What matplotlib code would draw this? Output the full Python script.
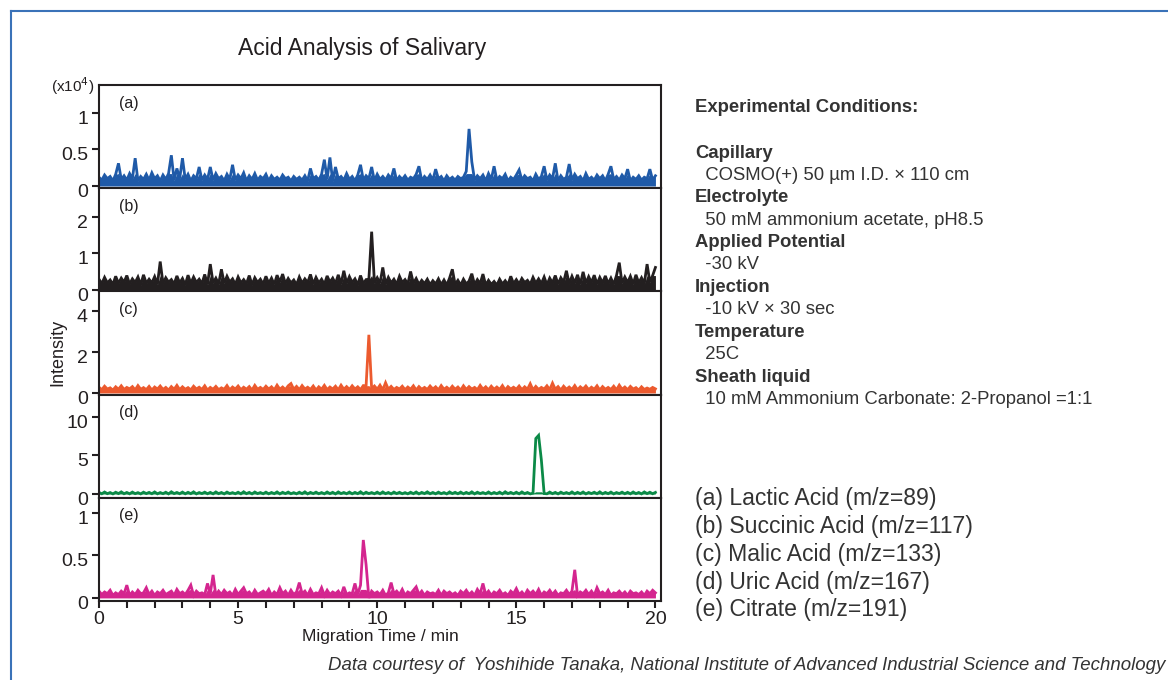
import numpy as np
import matplotlib
matplotlib.use("Agg")
import matplotlib.pyplot as plt
from matplotlib.lines import Line2D
from matplotlib.ticker import MultipleLocator
from matplotlib.transforms import ScaledTranslation

plt.rcParams['font.family'] = ['Liberation Sans', 'DejaVu Sans']

# ---------------- data (x10^4 intensity, sampled every 0.1 min) ----------------
t_step = 0.1

lactic = [
    0.12, 0.08, 0.15, 0.10, 0.13, 0.07, 0.16, 0.31, 0.09, 0.14,
    0.08, 0.17, 0.10, 0.38, 0.07, 0.13, 0.09, 0.16, 0.08, 0.18,
    0.10, 0.14, 0.07, 0.15, 0.09, 0.17, 0.42, 0.08, 0.24, 0.10,
    0.38, 0.09, 0.16, 0.07, 0.14, 0.10, 0.26, 0.08, 0.15, 0.09,
    0.26, 0.08, 0.17, 0.10, 0.13, 0.07, 0.16, 0.09, 0.29, 0.08,
    0.15, 0.10, 0.18, 0.07, 0.14, 0.09, 0.17, 0.08, 0.13, 0.10,
    0.16, 0.07, 0.14, 0.09, 0.12, 0.08, 0.15, 0.10, 0.12, 0.07,
    0.13, 0.09, 0.12, 0.08, 0.14, 0.07, 0.24, 0.10, 0.13, 0.08,
    0.16, 0.36, 0.09, 0.39, 0.07, 0.26, 0.10, 0.13, 0.08, 0.17,
    0.09, 0.13, 0.07, 0.15, 0.29, 0.08, 0.14, 0.10, 0.26, 0.07,
    0.16, 0.09, 0.13, 0.08, 0.15, 0.10, 0.24, 0.07, 0.13, 0.09,
    0.14, 0.08, 0.12, 0.10, 0.16, 0.27, 0.07, 0.13, 0.09, 0.15,
    0.08, 0.23, 0.10, 0.13, 0.07, 0.14, 0.09, 0.12, 0.08, 0.13,
    0.10, 0.12, 0.20, 0.78, 0.33, 0.08, 0.14, 0.10, 0.15, 0.07,
    0.17, 0.09, 0.27, 0.08, 0.13, 0.10, 0.16, 0.07, 0.12, 0.09,
    0.15, 0.22, 0.08, 0.14, 0.10, 0.12, 0.07, 0.16, 0.09, 0.13,
    0.27, 0.08, 0.15, 0.10, 0.31, 0.07, 0.14, 0.09, 0.12, 0.30,
    0.08, 0.16, 0.10, 0.13, 0.07, 0.17, 0.09, 0.12, 0.08, 0.15,
    0.10, 0.14, 0.07, 0.16, 0.27, 0.09, 0.13, 0.08, 0.15, 0.10,
    0.23, 0.07, 0.12, 0.09, 0.14, 0.08, 0.12, 0.10, 0.23, 0.08,
    0.14,
]

succinic = [
    0.30, 0.18, 0.35, 0.20, 0.28, 0.16, 0.38, 0.19, 0.33, 0.22,
    0.40, 0.17, 0.31, 0.21, 0.36, 0.15, 0.42, 0.19, 0.30, 0.20,
    0.37, 0.16, 0.78, 0.18, 0.34, 0.22, 0.29, 0.17, 0.39, 0.20,
    0.32, 0.15, 0.41, 0.19, 0.36, 0.21, 0.30, 0.18, 0.43, 0.16,
    0.71, 0.20, 0.33, 0.17, 0.57, 0.19, 0.38, 0.22, 0.31, 0.16,
    0.36, 0.20, 0.29, 0.18, 0.40, 0.15, 0.34, 0.21, 0.30, 0.17,
    0.38, 0.19, 0.33, 0.16, 0.41, 0.22, 0.44, 0.18, 0.32, 0.20,
    0.28, 0.15, 0.36, 0.19, 0.31, 0.21, 0.43, 0.17, 0.35, 0.20,
    0.30, 0.16, 0.39, 0.22, 0.33, 0.18, 0.42, 0.17, 0.53, 0.19,
    0.37, 0.21, 0.31, 0.15, 0.40, 0.18, 0.29, 0.30, 1.59, 0.20,
    0.34, 0.19, 0.62, 0.17, 0.35, 0.20, 0.30, 0.16, 0.38, 0.21,
    0.29, 0.17, 0.51, 0.19, 0.32, 0.16, 0.27, 0.18, 0.30, 0.15,
    0.26, 0.17, 0.31, 0.15, 0.28, 0.14, 0.33, 0.57, 0.16, 0.27,
    0.14, 0.30, 0.17, 0.25, 0.45, 0.15, 0.29, 0.18, 0.44, 0.14,
    0.27, 0.16, 0.24, 0.14, 0.30, 0.17, 0.26, 0.15, 0.38, 0.18,
    0.29, 0.17, 0.32, 0.21, 0.27, 0.16, 0.35, 0.19, 0.31, 0.18,
    0.36, 0.15, 0.33, 0.20, 0.40, 0.17, 0.34, 0.22, 0.53, 0.18,
    0.38, 0.20, 0.42, 0.16, 0.50, 0.19, 0.37, 0.21, 0.41, 0.17,
    0.35, 0.20, 0.39, 0.18, 0.33, 0.16, 0.40, 0.75, 0.19, 0.36,
    0.21, 0.38, 0.17, 0.42, 0.20, 0.34, 0.18, 0.71, 0.22, 0.40,
    0.62,
]

malic = [
    0.28, 0.16, 0.33, 0.19, 0.25, 0.14, 0.30, 0.18, 0.35, 0.17,
    0.27, 0.20, 0.31, 0.15, 0.36, 0.18, 0.26, 0.16, 0.32, 0.14,
    0.29, 0.19, 0.34, 0.17, 0.27, 0.14, 0.31, 0.18, 0.37, 0.16,
    0.30, 0.18, 0.26, 0.15, 0.33, 0.19, 0.28, 0.17, 0.35, 0.14,
    0.27, 0.18, 0.32, 0.16, 0.25, 0.18, 0.36, 0.15, 0.29, 0.19,
    0.34, 0.16, 0.28, 0.18, 0.31, 0.14, 0.37, 0.18, 0.27, 0.17,
    0.33, 0.19, 0.30, 0.15, 0.38, 0.18, 0.29, 0.16, 0.35, 0.46,
    0.18, 0.32, 0.16, 0.36, 0.19, 0.28, 0.17, 0.34, 0.14, 0.30,
    0.18, 0.37, 0.16, 0.29, 0.19, 0.33, 0.15, 0.38, 0.18, 0.31,
    0.17, 0.35, 0.19, 0.30, 0.16, 0.36, 0.35, 2.84, 0.20, 0.34,
    0.18, 0.38, 0.15, 0.50, 0.18, 0.32, 0.17, 0.27, 0.19, 0.33,
    0.16, 0.29, 0.18, 0.35, 0.14, 0.31, 0.18, 0.27, 0.17, 0.34,
    0.19, 0.30, 0.15, 0.36, 0.18, 0.28, 0.16, 0.33, 0.18, 0.29,
    0.14, 0.35, 0.17, 0.31, 0.19, 0.27, 0.16, 0.37, 0.18, 0.30,
    0.15, 0.33, 0.18, 0.29, 0.17, 0.36, 0.14, 0.31, 0.19, 0.28,
    0.18, 0.34, 0.16, 0.30, 0.18, 0.45, 0.15, 0.32, 0.17, 0.27,
    0.19, 0.35, 0.16, 0.48, 0.18, 0.31, 0.14, 0.33, 0.18, 0.29,
    0.17, 0.36, 0.15, 0.30, 0.19, 0.34, 0.16, 0.28, 0.18, 0.35,
    0.14, 0.31, 0.18, 0.27, 0.17, 0.33, 0.15, 0.38, 0.18, 0.29,
    0.16, 0.32, 0.19, 0.26, 0.14, 0.30, 0.17, 0.24, 0.18, 0.27,
    0.20,
]

uric = [
    0.20, 0.02, 0.25, 0.04, 0.18, 0.01, 0.22, 0.05, 0.27, 0.03,
    0.19, 0.02, 0.24, 0.04, 0.17, 0.01, 0.23, 0.05, 0.20, 0.03,
    0.26, 0.02, 0.18, 0.04, 0.22, 0.01, 0.28, 0.05, 0.19, 0.03,
    0.24, 0.02, 0.21, 0.04, 0.27, 0.01, 0.18, 0.05, 0.23, 0.03,
    0.20, 0.02, 0.26, 0.04, 0.19, 0.01, 0.24, 0.05, 0.17, 0.03,
    0.22, 0.02, 0.28, 0.04, 0.20, 0.01, 0.25, 0.05, 0.18, 0.03,
    0.23, 0.02, 0.19, 0.04, 0.26, 0.01, 0.21, 0.05, 0.24, 0.03,
    0.17, 0.02, 0.22, 0.04, 0.27, 0.01, 0.20, 0.05, 0.23, 0.03,
    0.18, 0.02, 0.25, 0.04, 0.21, 0.01, 0.26, 0.05, 0.19, 0.03,
    0.24, 0.02, 0.20, 0.04, 0.28, 0.01, 0.22, 0.05, 0.18, 0.03,
    0.23, 0.02, 0.26, 0.04, 0.19, 0.01, 0.24, 0.05, 0.21, 0.03,
    0.17, 0.02, 0.22, 0.04, 0.25, 0.01, 0.20, 0.05, 0.27, 0.03,
    0.19, 0.02, 0.23, 0.04, 0.18, 0.01, 0.26, 0.05, 0.21, 0.03,
    0.24, 0.02, 0.20, 0.04, 0.27, 0.01, 0.22, 0.05, 0.18, 0.03,
    0.25, 0.02, 0.19, 0.04, 0.23, 0.01, 0.28, 0.05, 0.20, 0.03,
    0.22, 0.02, 0.26, 0.04, 0.19, 0.01, 0.10, 7.20, 7.60, 4.40,
    0.05, 0.02, 0.24, 0.04, 0.20, 0.01, 0.23, 0.05, 0.18, 0.03,
    0.26, 0.02, 0.21, 0.04, 0.25, 0.01, 0.19, 0.05, 0.22, 0.03,
    0.27, 0.02, 0.20, 0.04, 0.24, 0.01, 0.18, 0.05, 0.23, 0.03,
    0.21, 0.02, 0.25, 0.04, 0.19, 0.01, 0.26, 0.05, 0.22, 0.03,
    0.20,
]

citrate = [
    0.08, 0.04, 0.07, 0.05, 0.09, 0.03, 0.06, 0.04, 0.08, 0.05,
    0.15, 0.03, 0.07, 0.04, 0.09, 0.05, 0.06, 0.12, 0.04, 0.08,
    0.03, 0.07, 0.05, 0.09, 0.04, 0.06, 0.08, 0.03, 0.10, 0.05,
    0.07, 0.04, 0.09, 0.15, 0.03, 0.08, 0.05, 0.06, 0.04, 0.17,
    0.05, 0.27, 0.03, 0.08, 0.04, 0.09, 0.05, 0.07, 0.03, 0.10,
    0.04, 0.08, 0.12, 0.05, 0.07, 0.03, 0.09, 0.04, 0.06, 0.08,
    0.05, 0.10, 0.03, 0.07, 0.04, 0.12, 0.05, 0.08, 0.03, 0.09,
    0.04, 0.07, 0.18, 0.05, 0.08, 0.03, 0.10, 0.04, 0.06, 0.05,
    0.12, 0.03, 0.09, 0.04, 0.07, 0.05, 0.08, 0.03, 0.13, 0.04,
    0.06, 0.05, 0.17, 0.04, 0.15, 0.68, 0.39, 0.00, 0.08, 0.05,
    0.07, 0.04, 0.09, 0.03, 0.06, 0.18, 0.05, 0.08, 0.04, 0.10,
    0.03, 0.07, 0.05, 0.09, 0.13, 0.04, 0.08, 0.03, 0.07, 0.05,
    0.06, 0.04, 0.09, 0.03, 0.08, 0.05, 0.07, 0.04, 0.06, 0.03,
    0.08, 0.05, 0.09, 0.04, 0.07, 0.03, 0.10, 0.05, 0.17, 0.04,
    0.08, 0.03, 0.07, 0.05, 0.09, 0.04, 0.06, 0.03, 0.08, 0.05,
    0.11, 0.04, 0.07, 0.03, 0.09, 0.05, 0.08, 0.04, 0.10, 0.03,
    0.07, 0.05, 0.09, 0.04, 0.08, 0.03, 0.06, 0.05, 0.09, 0.04,
    0.08, 0.33, 0.03, 0.07, 0.05, 0.09, 0.04, 0.08, 0.03, 0.12,
    0.05, 0.07, 0.04, 0.09, 0.03, 0.06, 0.05, 0.08, 0.04, 0.07,
    0.03, 0.08, 0.05, 0.06, 0.04, 0.07, 0.03, 0.08, 0.05, 0.09,
    0.06,
]

series = [lactic, succinic, malic, uric, citrate]
# top of the solid noise band (peaks above it are drawn as lines only)
band_tops = [0.17, 0.40, 0.36, 0.28, 0.10]
panel_labels = ['(a)', '(b)', '(c)', '(d)', '(e)']
colors = ['#1f5aa8', '#231f20', '#ec5a2e', '#0b8a47', '#d4258f']
ylims = [(-0.03, 1.38), (-0.03, 2.77), (-0.08, 4.96), (-0.5, 12.9), (-0.036, 1.175)]
yticks = [[0, 0.5, 1], [0, 1, 2], [0, 2, 4], [0, 5, 10], [0, 0.5, 1]]
ytick_labels = [['0', '0.5', '1'], ['0', '1', '2'], ['0', '2', '4'],
                ['0', '5', '10'], ['0', '0.5', '1']]
xticks = [0, 5, 10, 15, 20]

compounds = ['(a) Lactic Acid (m/z=89)', '(b) Succinic Acid (m/z=117)',
             '(c) Malic Acid (m/z=133)', '(d) Uric Acid (m/z=167)',
             '(e) Citrate (m/z=191)']

conditions = [
    ('Capillary', True), ('  COSMO(+) 50 µm I.D. × 110 cm', False),
    ('Electrolyte', True), ('  50 mM ammonium acetate, pH8.5', False),
    ('Applied Potential', True), ('  -30 kV', False),
    ('Injection', True), ('  -10 kV × 30 sec', False),
    ('Temperature', True), ('  25C', False),
    ('Sheath liquid', True), ('  10 mM Ammonium Carbonate: 2-Propanol =1:1', False),
]

# ---------------- figure ----------------
W, H = 1168, 680
fig = plt.figure(figsize=(W / 100, H / 100), dpi=100)

# blue outer frame
fig.add_artist(Line2D([10.5 / W, 1.0], [1 - 10.5 / H, 1 - 10.5 / H],
                      transform=fig.transFigure, color='#3a72b8', lw=1.5))
fig.add_artist(Line2D([10.5 / W, 10.5 / W], [0, 1 - 10.5 / H],
                      transform=fig.transFigure, color='#3a72b8', lw=1.5))

gs = fig.add_gridspec(5, 1, left=99 / W, right=661 / W,
                      top=1 - 85 / H, bottom=1 - 601 / H, hspace=0)

txtc = '#231f20'
label_shift = ScaledTranslation(0, -0.045, fig.dpi_scale_trans)
axes = []
for i, vals in enumerate(series):
    ax = fig.add_subplot(gs[i])
    v = np.asarray(vals)
    t = np.arange(len(v)) * t_step
    ax.fill_between(t, 0, np.minimum(v, band_tops[i]), color=colors[i], lw=0)
    ax.plot(t, v, color=colors[i], lw=2.0, solid_joinstyle='miter')
    ax.set_xlim(0, 20.2)
    ax.set_ylim(*ylims[i])
    ax.set_yticks(yticks[i])
    ax.set_yticklabels(ytick_labels[i])
    ax.tick_params(axis='y', direction='out', length=5, width=1.5,
                   labelsize=14, colors=txtc, pad=3)
    for lab in ax.get_yticklabels():
        lab.set_transform(lab.get_transform() + label_shift)
    for s in ax.spines.values():
        s.set_linewidth(1.5)
        s.set_color(txtc)
    ax.text(0.035, 1 - 18 / 103, panel_labels[i], transform=ax.transAxes,
            fontsize=11.5, color=txtc, va='center', ha='left')
    if i < 4:
        ax.set_xticks([])
    else:
        ax.set_xticks(xticks)
        ax.xaxis.set_minor_locator(MultipleLocator(1))
        ax.tick_params(axis='x', which='major', direction='out', length=5,
                       width=1.5, labelsize=14, colors=txtc, pad=2)
        ax.tick_params(axis='x', which='minor', direction='out', length=5,
                       width=1.5, colors=txtc)
        ax.set_xlabel('Migration Time / min', fontsize=12.5, color=txtc,
                      labelpad=1)
    axes.append(ax)

fig.text(73 / W, 1 - 86 / H, '(x10$^4$)', fontsize=11, color=txtc,
         ha='center', va='center')
fig.text(58 / W, 1 - 352 / H, 'Intensity', rotation=90, fontsize=13,
         color=txtc, ha='center', va='center')
fig.text(362 / W, 1 - 48 / H, 'Acid Analysis of Salivary', fontsize=16.5,
         color=txtc, ha='center', va='center')

# experimental conditions
fig.text(695 / W, 1 - 108 / H, 'Experimental Conditions:', fontsize=13.3,
         fontweight='bold', color='#333333', ha='left', va='center')
y0 = 153
for k, (line, bold) in enumerate(conditions):
    fig.text(695 / W, 1 - (y0 + k * 22.4) / H, line, fontsize=13.3,
             fontweight='bold' if bold else 'normal', color='#333333',
             ha='left', va='center')

# compound list
for k, line in enumerate(compounds):
    fig.text(695 / W, 1 - (499 + k * 27.7) / H, line, fontsize=16.6,
             color='#333333', ha='left', va='center')

fig.text(1165 / W, 1 - 666 / H,
         'Data courtesy of  Yoshihide Tanaka, National Institute of Advanced Industrial Science and Technology',
         fontsize=13.4, style='italic', color='#333333', ha='right', va='center',
         family=['Liberation Sans Narrow', 'Liberation Sans', 'DejaVu Sans'])

fig.savefig('out.png', dpi=100)
